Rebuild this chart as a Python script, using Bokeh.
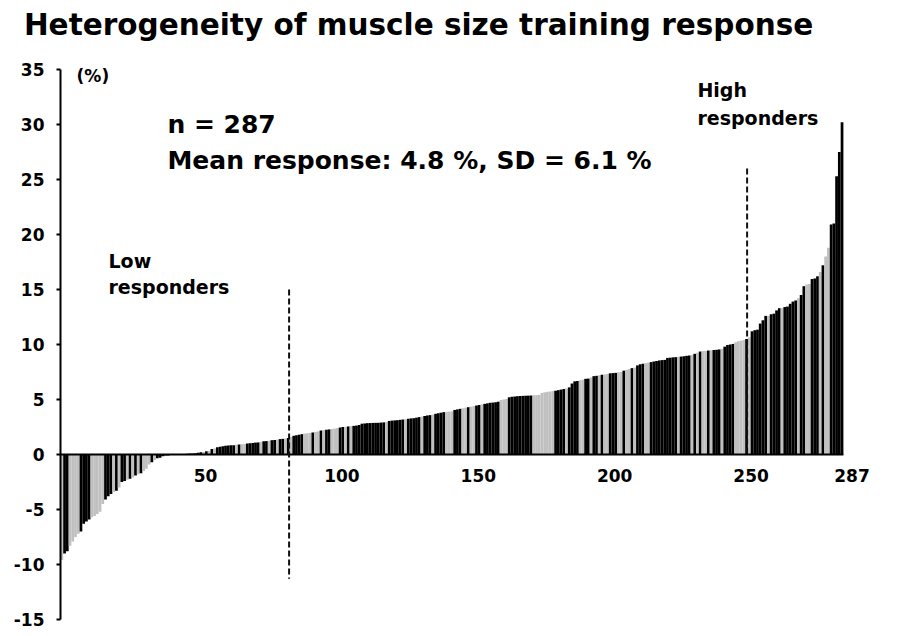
from bokeh.plotting import figure
from bokeh.models import ColumnDataSource, Range1d, FixedTicker, LabelSet, Label
from bokeh.transform import factor_cmap
from bokeh.core.properties import value
from bokeh.embed import file_html
from bokeh.resources import INLINE

# ---- data (sorted individual responses, %) ----
responses = [
    -9.6, -9.0, -8.8, -8.3, -7.9, -7.5, -7.2, -7.0, -6.3, -6.1,
    -5.9, -5.7, -5.6, -5.4, -5.2, -4.5, -4.1, -3.8, -3.6, -3.4,
    -3.3, -3.0, -2.5, -2.4, -2.3, -2.2, -2.1, -1.9, -1.8, -1.7,
    -1.5, -1.3, -0.9, -0.7, -0.5, -0.35, -0.3, -0.15, -0.1, -0.1,
    -0.05, -0.03, 0.0, 0.02, 0.03, 0.05, 0.07, 0.08, 0.1, 0.12,
    0.15, 0.2, 0.22, 0.3, 0.32, 0.5, 0.55, 0.65, 0.7, 0.75,
    0.8, 0.82, 0.85, 0.85, 0.88, 0.9, 0.92, 0.95, 1.0, 1.02,
    1.05, 1.08, 1.1, 1.15, 1.2, 1.22, 1.25, 1.3, 1.32, 1.35,
    1.4, 1.42, 1.45, 1.5, 1.6, 1.7, 1.75, 1.8, 1.85, 1.9,
    1.93, 1.96, 2.0, 2.05, 2.1, 2.18, 2.22, 2.25, 2.28, 2.32,
    2.35, 2.4, 2.45, 2.5, 2.52, 2.55, 2.58, 2.6, 2.63, 2.68,
    2.8, 2.82, 2.85, 2.86, 2.87, 2.88, 2.88, 2.9, 2.92, 2.95,
    3.05, 3.08, 3.1, 3.12, 3.15, 3.18, 3.2, 3.25, 3.28, 3.3,
    3.35, 3.4, 3.45, 3.5, 3.55, 3.58, 3.62, 3.7, 3.75, 3.8,
    3.85, 3.88, 3.9, 3.92, 4.05, 4.1, 4.15, 4.2, 4.25, 4.3,
    4.35, 4.4, 4.45, 4.5, 4.55, 4.6, 4.65, 4.7, 4.72, 4.75,
    4.8, 4.95, 5.0, 5.05, 5.2, 5.25, 5.27, 5.3, 5.32, 5.33,
    5.34, 5.35, 5.36, 5.38, 5.4, 5.42, 5.6, 5.65, 5.7, 5.72,
    5.76, 5.8, 5.85, 5.9, 5.95, 6.0, 6.1, 6.45, 6.65, 6.68,
    6.75, 6.8, 6.88, 6.9, 7.0, 7.12, 7.15, 7.2, 7.25, 7.28,
    7.32, 7.38, 7.4, 7.42, 7.48, 7.5, 7.62, 7.7, 7.78, 7.85,
    7.9, 8.1, 8.2, 8.25, 8.3, 8.35, 8.4, 8.45, 8.5, 8.55,
    8.58, 8.6, 8.78, 8.8, 8.83, 8.85, 8.87, 8.9, 8.93, 8.97,
    9.0, 9.05, 9.15, 9.25, 9.36, 9.4, 9.42, 9.45, 9.47, 9.5,
    9.52, 9.55, 9.6, 9.8, 9.95, 10.0, 10.05, 10.2, 10.3, 10.35,
    10.4, 10.5, 10.65, 11.2, 11.3, 11.35, 11.9, 12.2, 12.6, 12.6,
    12.75, 12.8, 13.1, 13.3, 13.3, 13.4, 13.45, 13.7, 13.9, 14.0,
    14.2, 14.5, 15.3, 15.45, 15.5, 15.95, 16.0, 16.2, 16.6, 17.2,
    18.0, 18.8, 20.9, 21.0, 25.3, 27.5, 30.2,
]

# group of each subject: B = black bar, G = grey bar
group_rows = [
    "GBBGGGGBBB", "BGGGGGBBBG", "BGBBGBGBGB", "GGGBGBBBBB", "BBBBGBBBBB",
    "BBGBGBGBBB", "BBBBGBGGBB", "BBBGBBGBBG", "BBGBGBBBBG", "GGBGGBGBBG",
    "GGBBGBGBBB", "BBBBBBBBBG", "BBBBBBGBBB", "BBGBBBGBBB", "BGGGBBBGGB",
    "GGBBGBBBBB", "BGGGBBBBBB", "BBBGGGGGGG", "GBBBBGBBBB", "GGBBGBBGBG",
    "GBBBGGBGGB", "GBBBGGBBBB", "BBBBBBGBBB", "BGBGBGGBGB", "BBGBBBBGGG",
    "GBGBBBBBBG", "BBBBGBBBBB", "GBBGGBBBGB", "GGBBBBB",
]
groups = [c for row in group_rows for c in row]

x_tick_values = [50, 100, 150, 200, 250, 287]
x_tick_labels = ["50", "100", "150", "200", "250", "287"]
y_ticks = [-15, -10, -5, 0, 5, 10, 15, 20, 25, 30, 35]
y_tick_labels = ["-15", "-10", "-5", "0", "5", "10", "15", "20", "25", "30", "35"]
y_axis_bounds = (-15, 35)

# responder cut-offs (subject rank) and the extent of their marker lines (%)
cut_rank = [84.3, 252.2]
cut_from = [15.0, 26.0]
cut_to = [-11.3, 0.0]

n = len(responses)
subjects = list(range(1, n + 1))

FONT = "DejaVu Sans"

# the plotting area covers the whole canvas; the y axis is pinned at the first bar
p = figure(width=880, height=630, output_backend="svg", toolbar_location=None,
           x_range=Range1d(-21.49, 301.1), y_range=Range1d(-16.0, 41.27),
           min_border=0, min_border_left=0, min_border_right=0,
           min_border_top=0, min_border_bottom=0)
p.outline_line_color = None
p.grid.visible = False
p.xaxis.visible = False
p.background_fill_color = "white"
p.border_fill_color = "white"

ya = p.yaxis[0]
ya.fixed_location = 0.5
ya.bounds = y_axis_bounds
ya.ticker = FixedTicker(ticks=y_ticks)
ya.major_label_overrides = {t: s for t, s in zip(y_ticks, y_tick_labels)}
ya.axis_line_width = 2
ya.axis_line_color = "black"
ya.major_tick_line_width = 2
ya.major_tick_out = 4
ya.major_tick_in = 0
ya.minor_tick_line_color = None
ya.major_label_standoff = 12
ya.major_label_text_font = FONT
ya.major_label_text_font_style = "bold"
ya.major_label_text_font_size = "17px"
ya.major_label_text_color = "black"

src = ColumnDataSource(dict(x=subjects, y=responses, g=groups))
p.vbar(x="x", top="y", bottom=0, width=1.0, source=src,
       fill_color=factor_cmap("g", palette=["#000000", "#c0c0c0"], factors=["B", "G"]),
       line_color=None)

# zero line spanning the bars
p.segment(x0=[0.5], x1=[n + 0.5], y0=[0], y1=[0], line_color="black", line_width=2)

p.segment(x0=cut_rank, x1=cut_rank, y0=cut_from, y1=cut_to,
          line_color="#111111", line_width=2, line_dash="6 3")

# x tick labels drawn at the zero line
tick_src = ColumnDataSource(dict(x=x_tick_values, y=[0] * len(x_tick_values), t=x_tick_labels))
p.add_layout(LabelSet(x="x", y="y", text="t", source=tick_src,
                      x_offset=10, y_offset=-15, text_align="center", text_baseline="top",
                      text_font=value(FONT), text_font_style="bold", text_font_size="17px",
                      text_color="black"))

def lab(x, y, t, size):
    p.add_layout(Label(x=x, y=y, text=t, text_font=FONT, text_font_style="bold",
                       text_font_size=size, text_baseline="middle", text_color="black"))

lab(-12.9, 39.0, "Heterogeneity of muscle size training response", "29.5px")
lab(6.4, 34.4, "(%)", "17px")
lab(39.7, 30.0, "n = 287", "25px")
lab(39.7, 26.7, "Mean response: 4.8 %, SD = 6.1 %", "25px")
lab(18.1, 17.6, "Low", "19px")
lab(18.1, 15.2, "responders", "19px")
lab(234.0, 33.1, "High", "19px")
lab(234.0, 30.6, "responders", "19px")

open("out.html", "w").write(file_html(p, INLINE))
